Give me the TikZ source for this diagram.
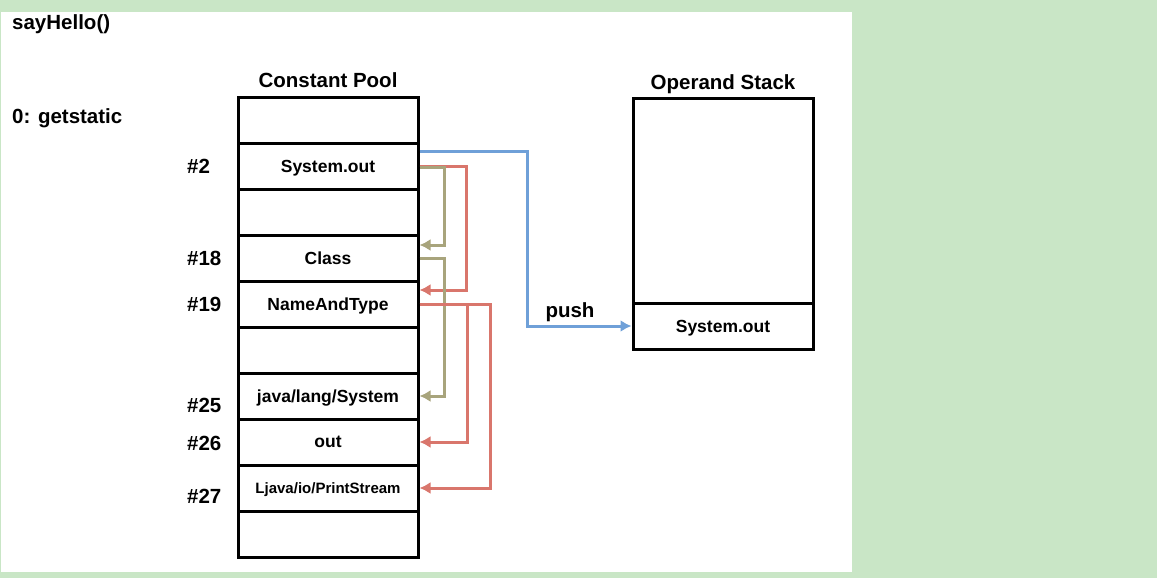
\documentclass[tikz,border=0pt]{standalone}
\usepackage{fontspec}
\setmainfont{Liberation Sans}
\usetikzlibrary{arrows.meta,positioning}
\definecolor{bggreen}{HTML}{C9E6C6}
\definecolor{pushblue}{HTML}{6FA0D8}
\definecolor{refolive}{HTML}{A8A47C}
\definecolor{refred}{HTML}{D9766C}

\begin{document}
\begin{tikzpicture}[x=1pt,y=-1pt,
  every node/.style={font=\bfseries\fontsize{17.5}{21}\selectfont,text depth=0pt},
  cell/.style={draw,line width=3pt,minimum width=180pt,minimum height=46pt,inner sep=0pt},
  big/.style={font=\bfseries\fontsize{20.5}{24}\selectfont,inner sep=0pt},
  idx/.style={big,anchor=west},
  link/.style={line width=3pt,-{Latex[length=11pt,width=12pt]}}]

\useasboundingbox (0,0) rectangle (1157,578);
\fill[bggreen] (0,0) rectangle (1157,578);
\fill[white] (1,12) rectangle (852,572);

\node[big,anchor=west] (method) at (12,22) {sayHello()};
\node[big,anchor=west] (instr) at (12,116) {0: getstatic};
\node[big] (cptitle) at (328,80) {Constant Pool};
\node[big] (ostitle) at (723,82) {Operand Stack};

\foreach \i/\t in {1/,2/System.out,3/,4/Class,5/NameAndType,6/,7/{java/lang/System},8/out,
  9/{\fontsize{15}{18}\selectfont Ljava/io/PrintStream},10/}
  \node[cell] (cp\i) at (328,{120+46*(\i-1)}) {\t};

\node[idx] (n2) at (187,166) {\#2};
\node[idx] (n18) at (187,258) {\#18};
\node[idx] (n19) at (187,304) {\#19};
\node[idx] (n25) at (187,405) {\#25};
\node[idx] (n26) at (187,443) {\#26};
\node[idx] (n27) at (187,496) {\#27};

\node[cell,minimum height=205pt] (os1) at (723,200.5) {};
\node[cell] (os2) at (723,326) {System.out};

\draw[link,refred] (cp2.east) -- ++(47,0) |- ([yshift=14pt]cp5.east);
\draw[link,refolive] ([yshift=-1pt]cp2.east) -- ++(25,0) |- ([yshift=13pt]cp4.east);
\draw[link,refolive] (cp4.east) -- ++(25,0) |- (cp7.east);
\draw[link,refred] (cp5.east) -- ++(48,0) |- (cp8.east);
\draw[link,refred] (cp5.east) -- ++(71,0) |- (cp9.east);

\draw[link,pushblue] ([yshift=15pt]cp2.east) -- ++(108,0) |- (os2.west);
\node[big] (push) at (570,310) {push};
\end{tikzpicture}
\end{document}
